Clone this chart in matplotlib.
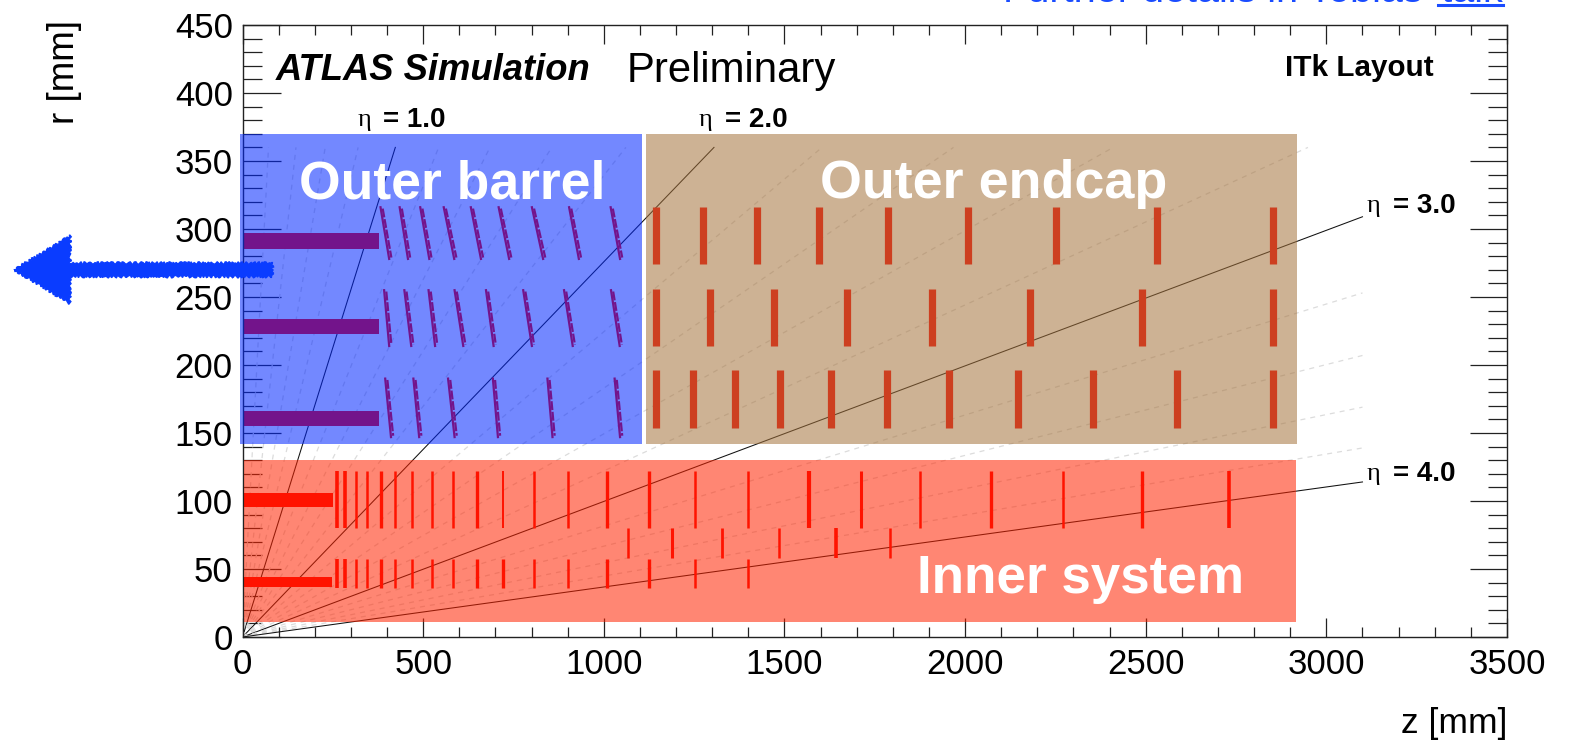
import matplotlib
matplotlib.use("Agg")
import matplotlib.pyplot as plt
from matplotlib.patches import Rectangle
from matplotlib.lines import Line2D

# barrel layers, flat part: z end, r low, r high
flat_zend = [250, 248, 378, 378, 378]
flat_rlo = [95.5, 37, 155, 223, 285]
flat_rhi = [106, 44, 166, 234, 297]

# inner system rings
inner_z_up = [262, 285, 314, 344, 382, 422, 469, 524, 582, 650, 722, 806, 901, 1008, 1124, 1252, 1400,
              1568, 1712, 1874, 2072, 2272, 2491, 2731]
inner_z_mid = [1066, 1188, 1327, 1484, 1642, 1791]
inner_z_low = [262, 285, 314, 344, 382, 422, 469, 524, 582, 650, 722, 806, 901, 1008, 1124, 1252, 1400]
inner_w_up = [2.6, 2.6, 1.8, 1.8, 2.4, 1.8, 1.8, 1.8, 1.8, 2.4, 1.4, 1.8, 1.8, 2.4, 2.4, 1.8, 1.8,
              3.0, 2.2, 1.8, 2.4, 1.8, 2.4, 2.6]
inner_w_mid = [1.8, 2.2, 2.0, 1.8, 2.6, 1.8]
inner_w_low = [2.6, 2.6, 1.8, 1.8, 2.4, 1.8, 1.8, 1.8, 1.8, 2.4, 2.4, 1.8, 1.8, 2.4, 2.4, 1.8, 1.8]

# outer endcap rings
ec_z_top = [1145, 1275, 1424, 1595, 1787, 2007, 2251, 2532, 2853]
ec_z_mid = [1144, 1295, 1471, 1673, 1909, 2179, 2491, 2853]
ec_z_low = [1144, 1246, 1362, 1487, 1628, 1783, 1955, 2146, 2354, 2587, 2853]

# inclined staves of the outer barrel, z at top and at bottom of each
st_top_a = [385, 438, 495, 560, 635, 712, 804, 907, 1022]
st_top_b = [409, 461, 520, 589, 663, 741, 835, 934, 1048]
st_mid_a = [395, 451, 518, 590, 677, 780, 893, 1023]
st_mid_b = [409, 470, 536, 614, 698, 804, 917, 1047]
st_low_a = [398, 476, 572, 696, 847, 1033]
st_low_b = [414, 492, 590, 710, 861, 1048]

# eta lines, end points
eta_vals = [0.2, 0.4, 0.6, 0.8, 1.0, 1.2, 1.4, 1.6, 1.8, 2.0, 2.2, 2.4, 2.6, 2.8, 3.0, 3.2, 3.4, 3.6, 3.8, 4.0]
eta_z = [72, 148, 229, 320, 423, 543, 685, 856, 1061, 1305, 1604, 1968, 2410, 2949, 3100, 3100, 3100, 3100, 3100, 3100]
eta_r = [360, 360, 360, 360, 360, 360, 360, 360, 360, 360, 360, 360, 360, 360, 309, 253, 207, 169, 139, 114]

eta_labels = ["= 1.0", "= 2.0", "= 3.0", "= 4.0"]
eta_lab_z = [318, 1263, 3112, 3112]
eta_lab_r = [380, 380, 317, 120]

xticks = [0, 500, 1000, 1500, 2000, 2500, 3000, 3500]
yticks = [0, 50, 100, 150, 200, 250, 300, 350, 400, 450]

fig = plt.figure(figsize=(15.71, 7.41), dpi=100)
plt.rcParams['font.family'] = ['Liberation Sans', 'DejaVu Sans']
ax = fig.add_axes([242.5/1571, 1-637/741, (1507-242.5)/1571, (637-25)/741])
ax.set_xlim(0, 3500)
ax.set_ylim(0, 450)
ax.set_axisbelow(True)

# dashed and solid eta lines
for e, z, r in zip(eta_vals, eta_z, eta_r):
    if round(e*10) % 10 == 0:
        ax.plot([0, z], [0, r], color='#111111', lw=0.75, zorder=1.5)
    else:
        ax.plot([0, z], [0, r], color='#dcdcdc', lw=0.9, ls=(0, (4, 4)), zorder=1.5)

for z, lo, hi in zip(flat_zend, flat_rlo, flat_rhi):
    ax.fill_between([0, z], lo, hi, color='#ff0000', lw=0, zorder=2)

ax.vlines(inner_z_up, 80, 122, color='#ff0000', lw=inner_w_up, zorder=2)
ax.vlines(inner_z_mid, 58, 80, color='#ff0000', lw=inner_w_mid, zorder=2)
ax.vlines(inner_z_low, 36, 57.5, color='#ff0000', lw=inner_w_low, zorder=2)

ax.vlines(ec_z_top, 274, 316, color='#ff0000', lw=5.2, zorder=2)
ax.vlines(ec_z_mid, 214, 256, color='#ff0000', lw=5.2, zorder=2)
ax.vlines(ec_z_low, 154, 196, color='#ff0000', lw=5.2, zorder=2)

# staves are two thin lines side by side
for a_list, b_list, rt, rb in [(st_top_a, st_top_b, 316, 278), (st_mid_a, st_mid_b, 255, 214), (st_low_a, st_low_b, 190, 147)]:
    for a, b in zip(a_list, b_list):
        ax.plot([a-3, b-3], [rt, rb], color='#ff0000', lw=1.6, zorder=2)
        ax.plot([a+3, b+3], [rt-1, rb+1], color='#ff0000', lw=1.6, ls=(0, (4, 0.8)), zorder=2)

# coloured regions go over everything
ax.add_patch(Rectangle((-6, 142), 1111, 228, fc='#0026ff', alpha=0.55, lw=0, zorder=5, clip_on=False))
ax.add_patch(Rectangle((1116, 142), 1803, 228, fc='#a5733c', alpha=0.55, lw=0, zorder=5))
ax.add_patch(Rectangle((5, 11), 2911, 119, fc='#ff2300', alpha=0.55, lw=0, zorder=5))

# hand drawn arrow on the slide
arrow = ax.arrow(83, 270, -560, 0, width=10, head_width=50, head_length=155, length_includes_head=False,
                 color='#0a3cff', lw=1.0, clip_on=False, zorder=6)
arrow.set_sketch_params(1.2, 5, 3)

ax.set_xticks(xticks)
ax.set_yticks(yticks)
ax.set_xticks(range(0, 3500, 100), minor=True)
ax.set_yticks(range(0, 450, 10), minor=True)
ax.tick_params(axis='x', which='major', direction='in', top=True, length=14, width=0.9, labelsize=25, pad=8, color='#222222')
ax.tick_params(axis='x', which='minor', direction='in', top=True, length=7, width=0.9, color='#222222')
ax.tick_params(axis='y', which='major', direction='in', right=True, length=27, width=0.9, labelsize=25, pad=7, color='#222222')
ax.tick_params(axis='y', which='minor', direction='in', right=True, length=14, width=0.9, color='#222222')
for s in ax.spines.values():
    s.set_linewidth(1.0)
    s.set_color('#222222')

fig.text(1507/1571, 1-723/741, "z [mm]", fontsize=25.5, ha='right', va='center')
fig.text(65/1571, 1-20/741, "r [mm]", fontsize=26.5, rotation=90, ha='center', va='top')

fig.text(276/1571, 1-70/741, "ATLAS Simulation", fontsize=26.2, fontweight='bold', fontstyle='italic', va='center')
fig.text(627/1571, 1-71/741, "Preliminary", fontsize=30.2, va='center')
fig.text(1434/1571, 1-68/741, "ITk Layout", fontsize=21.3, fontweight='bold', ha='right', va='center')

for lab, z, r in zip(eta_labels, eta_lab_z, eta_lab_r):
    ax.text(z, r, "η", fontsize=19, family=['Liberation Serif', 'DejaVu Serif'], va='center', clip_on=False, zorder=7)
    ax.text(z+72, r, lab, fontsize=20, fontweight='bold', va='center', clip_on=False, zorder=7)

ax.text(580, 333, "Outer barrel", color='white', fontsize=38.5, fontweight='bold', ha='center', va='center', zorder=7)
ax.text(2079, 333, "Outer endcap", color='white', fontsize=38.8, fontweight='bold', ha='center', va='center', zorder=7)
ax.text(2320, 43, "Inner system", color='white', fontsize=38.2, fontweight='bold', ha='center', va='center', zorder=7)

# sentence at the top is cut off by the edge of the slide
fig.text(1503/1571, 1-1.5/741, "Further details in Tobias' talk", color='#1a4cff', fontsize=28.5, ha='right', va='baseline')
fig.add_artist(Line2D([1438/1571, 1503/1571], [1-5/741, 1-5/741], color='#1a4cff', lw=2.2))

fig.savefig("out.png", dpi=100)
